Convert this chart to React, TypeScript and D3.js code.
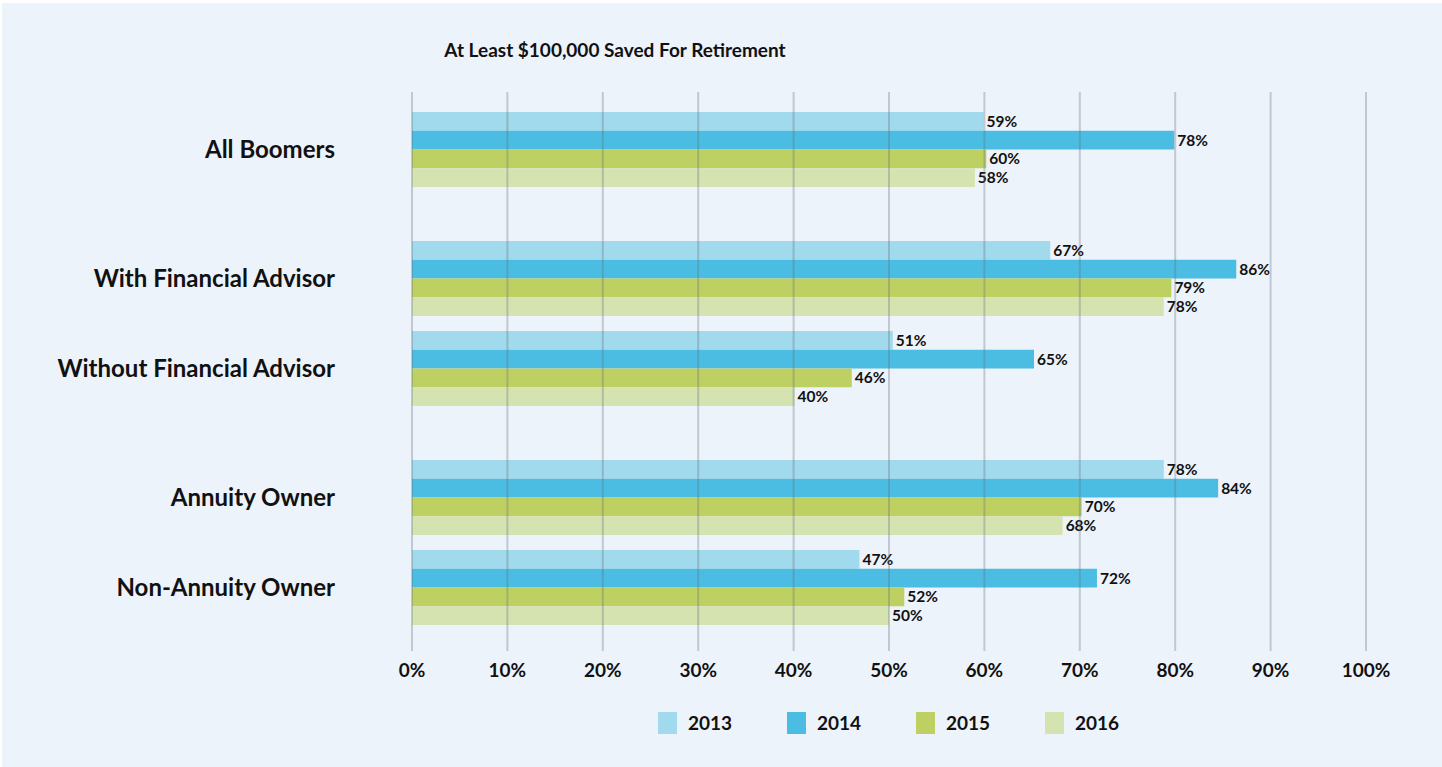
import React, { useEffect } from "react";
import * as d3 from "d3";

const title = "At Least $100,000 Saved For Retirement";
const categories = [
  "All Boomers",
  "With Financial Advisor",
  "Without Financial Advisor",
  "Annuity Owner",
  "Non-Annuity Owner",
];
const sections = [0, 1, 1, 2, 2];
const seriesNames = ["2013", "2014", "2015", "2016"];
const seriesColors = ["#A0DAEC", "#4BBDE2", "#BED062", "#D5E3B1"];
// bar lengths as drawn
const v2013 = [59.9, 66.9, 50.4, 78.8, 46.9];
const v2014 = [79.9, 86.4, 65.2, 84.5, 71.8];
const v2015 = [60.2, 79.6, 46.1, 70.2, 51.6];
const v2016 = [59.0, 78.8, 40.1, 68.2, 50.0];
// printed labels
const l2013 = [59, 67, 51, 78, 47];
const l2014 = [78, 86, 65, 84, 72];
const l2015 = [60, 79, 46, 70, 52];
const l2016 = [58, 78, 40, 68, 50];
const ticks = [0, 10, 20, 30, 40, 50, 60, 70, 80, 90, 100];

const values = [v2013, v2014, v2015, v2016];
const labels = [l2013, l2014, l2015, l2016];

export default function App() {
  useEffect(() => {
    document.body.style.margin = "0";
  }, []);
  const W = 1442;
  const H = 767;
  const x = d3.scaleLinear().domain([0, 100]).range([412, 1366]);
  const groupTop = (i: number) => 112 + i * 90 + sections[i] * 39;
  const inner = d3.scaleBand<string>().domain(seriesNames).range([0, 75]).padding(0);
  const font = "Lato, 'Open Sans', sans-serif";
  return (
    <svg width={W} height={H} style={{ display: "block", background: "#fff" }}>
      <rect x={2} y={3} width={W - 2} height={H - 3} fill="#EDF3FA" />
      <text x={615} y={57} textAnchor="middle" fontFamily={font} fontWeight={700} fontSize={19} fill="#111">
        {title}
      </text>
      {categories.map((c, i) => (
        <text
          key={c}
          x={335}
          y={groupTop(i) + 37.5}
          dy="0.35em"
          textAnchor="end"
          fontFamily={font}
          fontWeight={700}
          fontSize={24}
          fill="#111"
        >
          {c}
        </text>
      ))}
      {categories.map((c, i) =>
        seriesNames.map((s, si) => {
          const y0 = groupTop(i) + (inner(s) as number);
          const h = inner.bandwidth();
          const v = values[si][i];
          return (
            <g key={c + s}>
              <rect x={x(0)} y={y0} width={x(v) - x(0)} height={h} fill={seriesColors[si]} />
              <text
                x={x(v) + 3}
                y={y0 + h / 2}
                dy="0.36em"
                fontFamily={font}
                fontWeight={700}
                fontSize={15.5}
                fill="#111"
              >
                {labels[si][i] + "%"}
              </text>
            </g>
          );
        })
      )}
      {ticks.map((t) => (
        <g key={t}>
          <line x1={x(t)} x2={x(t)} y1={92} y2={651} stroke="rgb(100,110,120)" strokeOpacity={0.32} strokeWidth={2} />
          <text x={x(t)} y={677} textAnchor="middle" fontFamily={font} fontWeight={700} fontSize={19} fill="#111">
            {t + "%"}
          </text>
        </g>
      ))}
      {seriesNames.map((s, si) => (
        <g key={s} transform={`translate(${658 + si * 129},712)`}>
          <rect x={0} y={0} width={19} height={22} fill={seriesColors[si]} />
          <text x={30} y={11} dy="0.36em" fontFamily={font} fontWeight={700} fontSize={19} fill="#111">
            {s}
          </text>
        </g>
      ))}
    </svg>
  );
}
